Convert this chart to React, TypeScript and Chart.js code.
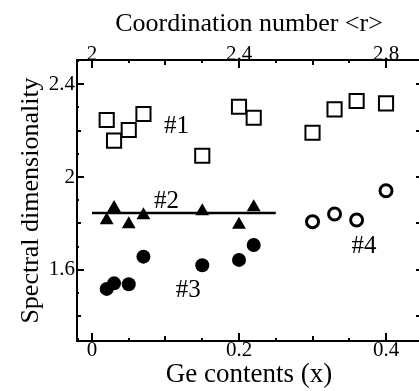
import React, { useEffect, useRef } from 'react';
import { Chart, registerables } from 'chart.js';

Chart.register(...registerables);

// ---- data ----
const set1X = [0.02, 0.03, 0.05, 0.07, 0.15, 0.2, 0.22, 0.3, 0.33, 0.36, 0.4];
const set1Y = [2.246, 2.157, 2.203, 2.272, 2.092, 2.303, 2.256, 2.191, 2.292, 2.328, 2.318];
const set2X = [0.02, 0.03, 0.05, 0.07, 0.15, 0.2, 0.22];
const set2Y = [1.814, 1.867, 1.797, 1.835, 1.853, 1.795, 1.87];
const set3X = [0.02, 0.03, 0.05, 0.07, 0.15, 0.2, 0.22];
const set3Y = [1.518, 1.542, 1.538, 1.657, 1.62, 1.643, 1.707];
const set4X = [0.3, 0.33, 0.36, 0.4];
const set4Y = [1.808, 1.841, 1.815, 1.941];
const fitLineX = [0, 0.25];
const fitLineY = [1.845, 1.845];

const labelTexts = ['#1', '#2', '#3', '#4'];
const labelX = [0.115, 0.1015, 0.131, 0.37];
const labelY = [2.217, 1.894, 1.513, 1.7];

const bottomTickLabels = [0, 0.2, 0.4];
const topTickLabels = [2, 2.4, 2.8];
const leftTickLabels = [1.6, 2, 2.4];

const X_MIN = -0.0204;
const X_MAX = 0.4476;
const Y_MIN = 1.2935;
const Y_MAX = 2.5047;

const FONT = "'Liberation Serif', 'Times New Roman', serif";

const pts = (xs: number[], ys: number[]) => xs.map((x, i) => ({ x, y: ys[i] }));

const tickPlugin = {
  id: 'inwardTicks',
  afterDraw(chart: any) {
    const { ctx, chartArea } = chart;
    const xs = chart.scales.x;
    const ys = chart.scales.y;
    ctx.save();
    ctx.strokeStyle = '#000';
    ctx.lineWidth = 2;
    ctx.beginPath();
    for (let n = -2; n <= 12; n++) {
      const v = n * 0.05;
      if (v < X_MIN || v > X_MAX) continue;
      const px = Math.round(xs.getPixelForValue(v));
      const len = n % 4 === 0 ? 8 : n % 2 === 0 ? 5 : 3;
      ctx.moveTo(px, chartArea.bottom);
      ctx.lineTo(px, chartArea.bottom - len);
      ctx.moveTo(px, chartArea.top);
      ctx.lineTo(px, chartArea.top + len);
    }
    for (let n = 12; n <= 26; n++) {
      const v = n / 10;
      if (v < Y_MIN || v > Y_MAX) continue;
      const py = Math.round(ys.getPixelForValue(v));
      const len = n % 4 === 0 ? 7 : n % 2 === 0 ? 4 : 2;
      ctx.moveTo(chartArea.left, py);
      ctx.lineTo(chartArea.left + len, py);
      if (n % 2 === 0) {
        ctx.moveTo(chartArea.right, py);
        ctx.lineTo(chartArea.right - 5, py);
      }
    }
    ctx.stroke();
    ctx.beginPath();
    ctx.moveTo(chartArea.right, chartArea.top);
    ctx.lineTo(chartArea.right, chartArea.bottom);
    ctx.stroke();
    ctx.restore();
  },
};

const labelPlugin = {
  id: 'seriesLabels',
  afterDatasetsDraw(chart: any) {
    const { ctx } = chart;
    const xs = chart.scales.x;
    const ys = chart.scales.y;
    ctx.save();
    ctx.fillStyle = '#000';
    ctx.font = `25px ${FONT}`;
    ctx.textAlign = 'center';
    ctx.textBaseline = 'middle';
    labelTexts.forEach((t, i) => {
      ctx.fillText(t, xs.getPixelForValue(labelX[i]), ys.getPixelForValue(labelY[i]));
    });
    ctx.restore();
  },
};

export default function App() {
  const ref = useRef<HTMLCanvasElement | null>(null);
  useEffect(() => {
    if (!ref.current) return;
    const chart = new Chart(ref.current, {
      type: 'scatter',
      data: {
        datasets: [
          {
            label: '#2 fit',
            type: 'line',
            data: pts(fitLineX, fitLineY),
            borderColor: '#000',
            borderWidth: 2.5,
            pointRadius: 0,
            showLine: true,
          } as any,
          {
            label: '#1',
            data: pts(set1X, set1Y),
            pointStyle: 'rect',
            pointRadius: 10,
            borderWidth: 2,
            borderColor: '#000',
            backgroundColor: 'rgba(0,0,0,0)',
          },
          {
            label: '#2',
            data: pts(set2X, set2Y),
            pointStyle: 'triangle',
            pointRadius: 8,
            borderWidth: 0,
            borderColor: '#000',
            backgroundColor: '#000',
          },
          {
            label: '#3',
            data: pts(set3X, set3Y),
            pointStyle: 'circle',
            pointRadius: 7,
            borderWidth: 0,
            borderColor: '#000',
            backgroundColor: '#000',
          },
          {
            label: '#4',
            data: pts(set4X, set4Y),
            pointStyle: 'circle',
            pointRadius: 6,
            borderWidth: 3,
            borderColor: '#000',
            backgroundColor: '#fff',
          },
        ],
      },
      options: {
        animation: false,
        responsive: false,
        devicePixelRatio: 1,
        layout: { autoPadding: false, padding: { left: 0, right: 9, top: 0, bottom: 0 } },
        plugins: { legend: { display: false }, tooltip: { enabled: false } },
        scales: {
          x: {
            type: 'linear',
            position: 'bottom',
            min: X_MIN,
            max: X_MAX,
            afterBuildTicks: (s: any) => {
              s.ticks = bottomTickLabels.map((v) => ({ value: v }));
            },
            afterFit: (s: any) => {
              s.height = 50;
              s.paddingLeft = 0;
              s.paddingRight = 0;
            },
            grid: { display: false, drawTicks: false },
            border: { display: true, color: '#000', width: 2 },
            ticks: {
              color: '#000',
              font: { family: FONT, size: 21 },
              padding: -3,
              maxRotation: 0,
              autoSkip: false,
              callback: (v: any) => String(v),
            },
            title: {
              display: true,
              text: 'Ge contents (x)',
              color: '#000',
              font: { family: FONT, size: 27 },
              padding: { top: 0, bottom: 0 },
            },
          },
          x2: {
            type: 'linear',
            position: 'top',
            min: 2 + 2 * X_MIN,
            max: 2 + 2 * X_MAX,
            afterBuildTicks: (s: any) => {
              s.ticks = topTickLabels.map((v) => ({ value: v }));
            },
            afterFit: (s: any) => {
              s.height = 60;
              s.paddingLeft = 0;
              s.paddingRight = 0;
            },
            grid: { display: false, drawTicks: false },
            border: { display: true, color: '#000', width: 2 },
            ticks: {
              color: '#000',
              font: { family: FONT, size: 21 },
              padding: -7,
              maxRotation: 0,
              autoSkip: false,
              callback: (v: any) => String(v),
            },
            title: {
              display: true,
              text: 'Coordination number <r>',
              color: '#000',
              font: { family: FONT, size: 26 },
              padding: { top: 9, bottom: 0 },
            },
          },
          y: {
            type: 'linear',
            position: 'left',
            min: Y_MIN,
            max: Y_MAX,
            afterBuildTicks: (s: any) => {
              s.ticks = leftTickLabels.map((v) => ({ value: v }));
            },
            afterFit: (s: any) => {
              s.width = 77;
            },
            grid: { display: false, drawTicks: false },
            border: { display: true, color: '#000', width: 2 },
            ticks: {
              color: '#000',
              font: { family: FONT, size: 21 },
              padding: 2,
              autoSkip: false,
              callback: (v: any) => String(v),
            },
            title: {
              display: true,
              text: 'Spectral dimensionality',
              color: '#000',
              font: { family: FONT, size: 26 },
              padding: { top: 16, bottom: 0 },
            },
          },
        },
      },
      plugins: [tickPlugin, labelPlugin],
    });
    return () => chart.destroy();
  }, []);

  return (
    <div
      style={{
        position: 'fixed',
        left: 0,
        top: 0,
        width: 419,
        height: 391,
        overflow: 'hidden',
        background: '#fff',
      }}
    >
      <canvas ref={ref} width={430} height={391} style={{ width: 430, height: 391, display: 'block' }} />
    </div>
  );
}
